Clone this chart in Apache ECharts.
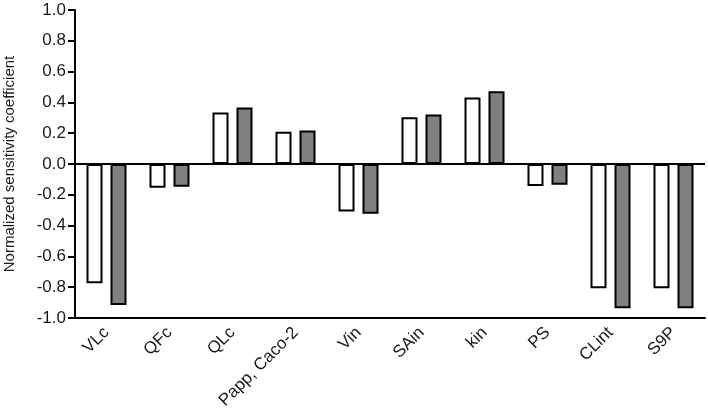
<!DOCTYPE html>
<html>
<head>
<meta charset="utf-8">
<script src="https://cdn.jsdelivr.net/npm/echarts@6/dist/echarts.min.js"></script>
<style>
  html, body { margin: 0; padding: 0; background: #fff; }
  #chart { width: 708px; height: 416px; }
</style>
</head>
<body>
<div id="chart"></div>
<script>
const categories = ['VLc', 'QFc', 'QLc', 'Papp, Caco-2', 'Vin', 'SAin', 'kin', 'PS', 'CLint', 'S9P']
const whiteValues = [-0.775, -0.154, 0.334, 0.209, -0.308, 0.304, 0.432, -0.143, -0.807, -0.807]
const grayValues = [-0.916, -0.147, 0.367, 0.218, -0.323, 0.321, 0.473, -0.134, -0.937, -0.937]

const chart = echarts.init(document.getElementById('chart'))

const fontFamily = '"Liberation Sans", Arial, sans-serif'

const option = {
    animation: false,
    grid: { left: 75, right: 3, top: 10, bottom: 98, outerBoundsMode: 'none' },
    xAxis: {
        type: 'category',
        data: categories,
        axisLine: { onZero: false, lineStyle: { color: '#000', width: 2 } },
        axisTick: { alignWithLabel: true, length: 7, lineStyle: { color: '#000', width: 2 } },
        axisLabel: { rotate: 45, margin: 12, interval: 0, color: '#1a1a1a', fontFamily: fontFamily, fontSize: 17 }
    },
    yAxis: {
        type: 'value',
        min: -1,
        max: 1,
        interval: 0.2,
        name: 'Normalized sensitivity coefficient',
        nameLocation: 'middle',
        nameGap: 58,
        nameTextStyle: { color: '#1a1a1a', fontFamily: fontFamily, fontSize: 15 },
        axisLine: { show: true, lineStyle: { color: '#000', width: 2 } },
        axisTick: { show: true, length: 7, lineStyle: { color: '#000', width: 2 } },
        axisLabel: {
            margin: 9,
            color: '#1a1a1a',
            fontFamily: fontFamily,
            fontSize: 17,
            formatter: function (v) { return v.toFixed(1) }
        },
        splitLine: { show: false }
    },
    series: [
        {
            type: 'bar',
            data: whiteValues,
            barWidth: 16,
            barGap: '50%',
            itemStyle: { color: '#fff', borderColor: '#000', borderWidth: 2 },
            markLine: {
                silent: true,
                symbol: 'none',
                label: { show: false },
                lineStyle: { color: '#000', width: 2, type: 'solid' },
                data: [{ yAxis: 0 }]
            }
        },
        {
            type: 'bar',
            data: grayValues,
            barWidth: 16,
            barGap: '50%',
            itemStyle: { color: '#808080', borderColor: '#000', borderWidth: 2 }
        }
    ]
}

chart.setOption(option)
</script>
</body>
</html>
